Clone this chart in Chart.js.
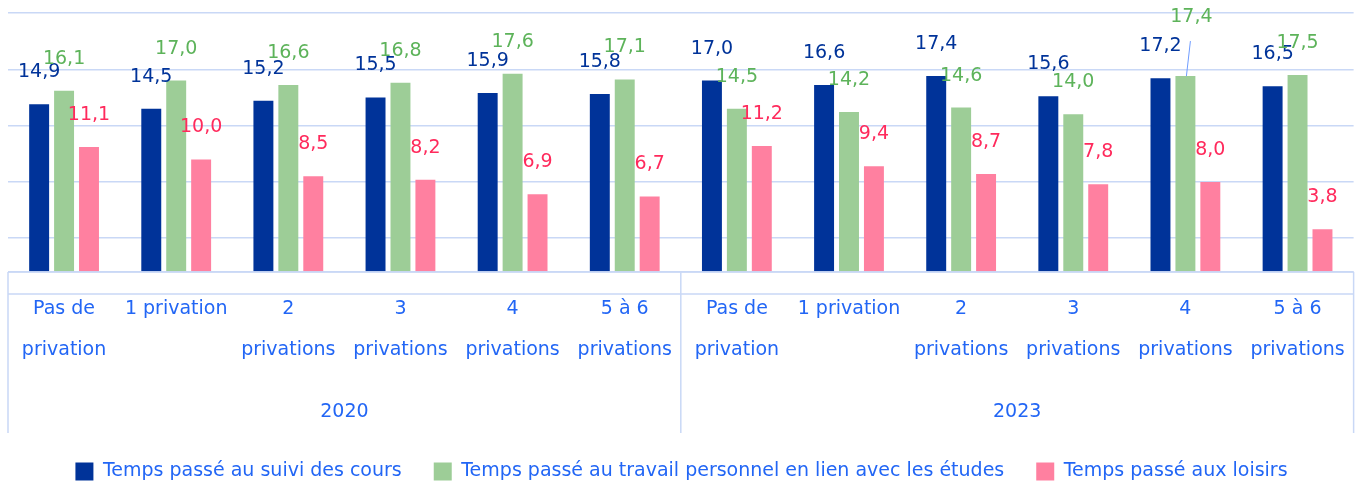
<!DOCTYPE html>
<html lang="fr">
<head>
<meta charset="utf-8">
<title>Temps passé selon le nombre de privations</title>
<script src="https://cdn.jsdelivr.net/npm/chart.js@4/dist/chart.umd.min.js"></script>
<style>
  html, body { margin: 0; padding: 0; background: #fff; }
  #wrap { width: 1362px; height: 482px; position: relative; }
</style>
</head>
<body>
<div id="wrap"><canvas id="chart"></canvas></div>
<script>
// categories (two-line labels) and the year groups they belong to
var categories = [
  ['Pas de', 'privation'], ['1 privation'], ['2', 'privations'],
  ['3', 'privations'], ['4', 'privations'], ['5 à 6', 'privations'],
  ['Pas de', 'privation'], ['1 privation'], ['2', 'privations'],
  ['3', 'privations'], ['4', 'privations'], ['5 à 6', 'privations']
];
var groups = ['2020', '2023'];

// hours per week
var suiviCours = [14.9, 14.5, 15.2, 15.5, 15.9, 15.8, 17.0, 16.6, 17.4, 15.6, 17.2, 16.5];
var travailPerso = [16.1, 17.0, 16.6, 16.8, 17.6, 17.1, 14.5, 14.2, 14.6, 14.0, 17.4, 17.5];
var loisirs = [11.1, 10.0, 8.5, 8.2, 6.9, 6.7, 11.2, 9.4, 8.7, 7.8, 8.0, 3.8];

var gridValues = [0, 3, 8, 13, 18, 23];

var FONT = '"DejaVu Sans", "Open Sans", sans-serif';
var AXIS_BLUE = '#2266f5';
var LINE_BLUE = '#c9d8f6';
var BOX_HEIGHT = 161;

function fmt(v) {
	return v.toFixed(1).replace('.', ',');
}

// value labels above each bar, one leader line for a label pushed upward
var valueLabels = {
	id: 'valueLabels',
	afterDatasetsDraw: function(chart) {
		var ctx = chart.ctx;
		ctx.save();
		ctx.font = '19px ' + FONT;
		ctx.textAlign = 'center';
		ctx.textBaseline = 'middle';
		chart.data.datasets.forEach(function(ds, di) {
			var meta = chart.getDatasetMeta(di);
			meta.data.forEach(function(bar, i) {
				var x = bar.x, y = bar.y - 32;
				if (di === 1 && i === 10) {
					x = bar.x + 6;
					y = bar.y - 59;
					ctx.strokeStyle = '#6f9cff';
					ctx.lineWidth = 1;
					ctx.beginPath();
					ctx.moveTo(bar.x + 5, y + 24);
					ctx.lineTo(bar.x + 1, bar.y);
					ctx.stroke();
				}
				ctx.fillStyle = ds.labelColor;
				ctx.fillText(fmt(ds.data[i]), x, y);
			});
		});
		ctx.restore();
	}
};

// box under the plot with year groups
var groupBox = {
	id: 'groupBox',
	afterDraw: function(chart) {
		var ctx = chart.ctx;
		var area = chart.chartArea;
		var top = area.bottom;
		var bottom = top + BOX_HEIGHT;
		var perGroup = categories.length / groups.length;
		var step = (area.right - area.left) / categories.length;
		ctx.save();
		ctx.strokeStyle = LINE_BLUE;
		ctx.lineWidth = 1.5;
		ctx.beginPath();
		ctx.moveTo(area.left, top);
		ctx.lineTo(area.right, top);
		ctx.moveTo(area.left, top + 22);
		ctx.lineTo(area.right, top + 22);
		for (var g = 0; g <= groups.length; g++) {
			var gx = area.left + g * perGroup * step;
			ctx.moveTo(gx, top);
			ctx.lineTo(gx, bottom);
		}
		ctx.stroke();
		ctx.fillStyle = AXIS_BLUE;
		ctx.font = '19px ' + FONT;
		ctx.textAlign = 'center';
		ctx.textBaseline = 'middle';
		groups.forEach(function(name, g) {
			var cx = area.left + (g + 0.5) * perGroup * step;
			ctx.fillText(name, cx, top + 140);
		});
		ctx.restore();
	}
};

var ctx = document.getElementById('chart');
var myChart = new Chart(ctx, {
	type: 'bar',
	data: {
		labels: categories,
		datasets: [
			{ label: 'Temps passé au suivi des cours', data: suiviCours, backgroundColor: '#003399', labelColor: '#003399' },
			{ label: 'Temps passé au travail personnel en lien avec les études', data: travailPerso, backgroundColor: '#9dcd97', labelColor: '#5db35a' },
			{ label: 'Temps passé aux loisirs', data: loisirs, backgroundColor: '#ff80a0', labelColor: '#ff2a5c' }
		]
	},
	options: {
		responsive: true,
		maintainAspectRatio: false,
		animation: false,
		layout: { padding: { top: 13, left: 8, right: 7, bottom: 0 } },
		datasets: { bar: { categoryPercentage: 0.667, barPercentage: 0.8 } },
		scales: {
			x: {
				grid: { display: false, drawTicks: false },
				border: { display: false },
				ticks: {
					color: AXIS_BLUE,
					font: { family: FONT, size: 19, lineHeight: 2.16 },
					padding: 17,
					maxRotation: 0,
					autoSkip: false
				},
				afterFit: function(scale) { scale.height = BOX_HEIGHT - 3; }
			},
			y: {
				min: 0,
				max: 23,
				afterBuildTicks: function(scale) {
					scale.ticks = gridValues.map(function(v) { return { value: v }; });
				},
				grid: { color: LINE_BLUE, lineWidth: 1.5, drawTicks: false },
				border: { display: false },
				ticks: { display: false }
			}
		},
		plugins: {
			legend: {
				position: 'bottom',
				maxHeight: 52,
				labels: {
					color: AXIS_BLUE,
					font: { family: FONT, size: 19 },
					boxWidth: 18,
					boxHeight: 18,
					padding: 32
				}
			},
			tooltip: { enabled: false }
		}
	},
	plugins: [valueLabels, groupBox]
});
</script>
</body>
</html>
